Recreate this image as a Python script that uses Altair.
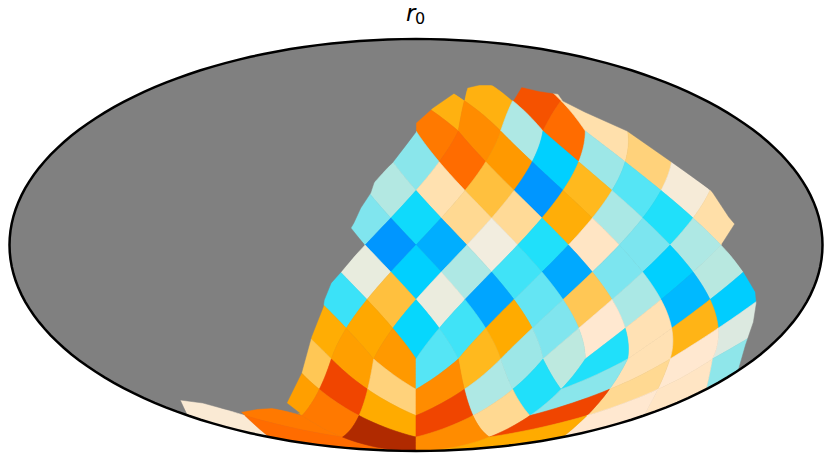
import math
import altair as alt

# HEALPix (nside=4) cells: ring number, column along the ring, colour level
r3_cols = [2, 4, 6, 10]
r3_vals = [12.6, 12.6, 15.7, 9.8]
r4_cols = [1, 3, 5, 7, 9]
r4_vals = [14.6, 14.0, 6.0, 15.0, 9.9]
r5_cols = [0, 2, 4, 6, 8, 10]
r5_vals = [5.2, 15.0, 13.6, 2.0, 5.6, 10.8]
r6_cols = [-1, 1, 3, 5, 7, 9, 11]
r6_vals = [6.1, 9.8, 11.7, 0.0, 12.1, 4.0, 8.4]
r7_cols = [-2, 0, 2, 4, 6, 8, 10, 12]
r7_vals = [5.0, 2.6, 10.4, 10.3, 12.8, 5.9, 3.0, 10.0]
r8_cols = [-1, 1, 3, 5, 7, 9, 11]
r8_vals = [0.0, 1.0, 8.0, 3.0, 9.3, 4.9, 6.0]
r9_cols = [-2, 0, 2, 4, 6, 8, 10, 12]
r9_vals = [7.6, 2.0, 6.0, 3.5, 0.8, 4.9, 2.0, 6.2]
r10_cols = [-3, -1, 1, 3, 5, 7, 9, 11, 13]
r10_vals = [3.4, 11.7, 7.7, 0.6, 4.3, 11.4, 5.9, 1.3, 1.9]
r11_cols = [-4, -2, 0, 2, 4, 6, 8, 10, 12, 14]
r11_vals = [12.9, 13.1, 2.4, 3.5, 13.0, 5.0, 9.0, 9.7, 12.4, 7.0]
r12_cols = [-5, -3, -1, 1, 3, 5, 7, 9, 11, 13, 15]
r12_vals = [11.4, 13.4, 13.6, 4.0, 12.1, 5.6, 6.3, 3.0, 9.7, 9.0, 5.3]
r13_cols = [-6, -4, -2, 2, 4, 6, 10, 12, 14]
r13_vals = [13.4, 16.0, 10.8, 14.0, 6.0, 3.0, 5.2, 10.4, 9.3]
r14_cols = [-13, -11, -5, -3, 3, 5, 11, 13]
r14_vals = [8.7, 14.6, 14.6, 13.0, 16.0, 10.4, 16.0, 9.0]
r15_cols = [-12, -4, 4, 12]
r15_vals = [15.0, 17.0, 14.0, 13.0]

ring_table = [
    (3, r3_cols, r3_vals), (4, r4_cols, r4_vals), (5, r5_cols, r5_vals),
    (6, r6_cols, r6_vals), (7, r7_cols, r7_vals), (8, r8_cols, r8_vals),
    (9, r9_cols, r9_vals), (10, r10_cols, r10_vals), (11, r11_cols, r11_vals),
    (12, r12_cols, r12_vals), (13, r13_cols, r13_vals), (14, r14_cols, r14_vals),
    (15, r15_cols, r15_vals),
]

# Edge of the unobserved (grey) area, in map units from the centre of the ellipse
edge_x = [-233, -239, -216, -194, -178, -161, -146, -118, -131, -116, -106, -94, -93, -86,
          -76, -66, -53, -66, -63, -56, -46, -41, -24, 0, 0, 17, 39, 49, 51, 64, 79, 97, 99,
          107, 124, 144, 149, 171, 214, 259, 299, 309, 317, 323, 310, 316, 332, 344, 345,
          342, 334, 327]
edge_y = [-168, -155, -158, -164, -167, -164, -163, -168, -158, -128, -92, -62, -55, -38,
          -27, -15, 1, 17, 22, 37, 52, 67, 82, 113, 122, 137, 152, 145, 157, 160, 160, 145, 145,
          158, 154, 151, 144, 133, 114, 83, 55, 40, 28, 21, 1, -5, -27, -47, -58, -77, -100, -124]

level_colors = ["#0096ff", "#00aeff", "#00d0ff", "#20e0fa", "#55e5f5", "#80e5ee", "#aee8e4",
                "#dce9e0", "#f2eddf", "#ffe8d0", "#ffdfa8", "#ffcf70", "#ffba20", "#ffab00",
                "#ff8c00", "#ff6c00", "#f04500", "#b02a00"]

# The reference's ellipse is 412 units wide on each side; the drawable page is a little narrower.
A_REF = 412.0
A, B = 406.5, 206.0
PI = math.pi
U = PI / 16


def moll(lon, lat):
    t = lat
    if abs(abs(lat) - PI / 2) < 1e-9:
        t = math.copysign(PI / 2, lat)
    else:
        for _ in range(80):
            d = 2 + 2 * math.cos(2 * t)
            if abs(d) < 1e-12:
                break
            t -= (2 * t + math.sin(2 * t) - PI * math.sin(lat)) / d
    return [A * lon / PI * math.cos(t), B * math.sin(t)]


def plane_to_sphere(xs, ys, pc):
    a = abs(ys)
    if a <= PI / 4:
        z, lon = 8 * ys / (3 * PI), xs
    else:
        sg = 2 - 4 * a / PI
        z = math.copysign(1 - sg * sg / 3, ys)
        lon = pc if sg < 1e-9 else pc + (xs - pc) / sg
    return lon, math.asin(max(-1, min(1, z)))


def cell_ring(r, c):
    xc, yc = c * U, PI / 2 - r * U
    pc = -3 * PI / 4 + min(3, math.floor((xc + PI) / (PI / 2))) * PI / 2
    corners = [(xc, yc + U), (xc + U, yc), (xc, yc - U), (xc - U, yc), (xc, yc + U)]
    pts = []
    for a, b in zip(corners[:-1], corners[1:]):
        for i in range(10):
            t = i / 10
            pts.append(moll(*plane_to_sphere(a[0] + (b[0] - a[0]) * t, a[1] + (b[1] - a[1]) * t, pc)))
    pts.append(pts[0])
    return pts


def poly(points, **props):
    return {"type": "Feature", "properties": props,
            "geometry": {"type": "Polygon", "coordinates": [points]}}


cell_features = [poly(cell_ring(r, c), level=v)
                 for r, cols, vals in ring_table for c, v in zip(cols, vals)]

oval = [[A * math.cos(math.radians(d)), B * math.sin(math.radians(d))] for d in range(0, 361, 2)]
a0 = math.degrees(math.atan2(edge_y[-1] / B, edge_x[-1] / A_REF))
a1 = math.degrees(math.atan2(edge_y[0] / B, edge_x[0] / A_REF)) + 360
arc = [[A * math.cos(math.radians(a0 + (a1 - a0) * i / 180)),
        B * math.sin(math.radians(a0 + (a1 - a0) * i / 180))] for i in range(181)]
mask = arc + [[x * A / A_REF, y] for x, y in zip(edge_x, edge_y)]
mask.append(mask[0])

proj = {"type": "identity", "scale": 1, "translate": [408, 237], "reflectY": True}
GREY = "#808080"

base = alt.Chart(alt.Data(values=[poly(oval)])).mark_geoshape(fill=GREY, stroke=GREY, strokeWidth=0).project(**proj)
level_scale = alt.Scale(domain=list(range(len(level_colors))), range=level_colors)
cells = alt.Chart(alt.Data(values=cell_features)).mark_geoshape(strokeWidth=0.6).encode(
    color=alt.Color("properties.level:Q", scale=level_scale, legend=None),
    stroke=alt.Stroke("properties.level:Q", scale=level_scale, legend=None),
).project(**proj)
grey = alt.Chart(alt.Data(values=[poly(mask)])).mark_geoshape(fill=GREY, stroke=GREY, strokeWidth=0.5).project(**proj)
outline = alt.Chart(alt.Data(values=[poly(oval)])).mark_geoshape(
    filled=False, stroke="black", strokeWidth=2.5).project(**proj)

title_r = alt.Chart(alt.Data(values=[{"t": "r"}])).mark_text(
    font="DejaVu Sans", fontStyle="italic", fontSize=23, align="left", baseline="alphabetic", color="black"
).encode(x=alt.value(398), y=alt.value(13), text="t:N")
title_0 = alt.Chart(alt.Data(values=[{"t": "0"}])).mark_text(
    font="DejaVu Sans", fontSize=16, align="left", baseline="alphabetic", color="black"
).encode(x=alt.value(407), y=alt.value(16), text="t:N")

chart = alt.layer(base, cells, grey, outline, title_r, title_0).properties(
    width=816, height=446, padding=0, autosize="none", background="white"
).configure_view(stroke=None)
chart.save("out.html", embed_options={"renderer": "svg", "actions": False})
